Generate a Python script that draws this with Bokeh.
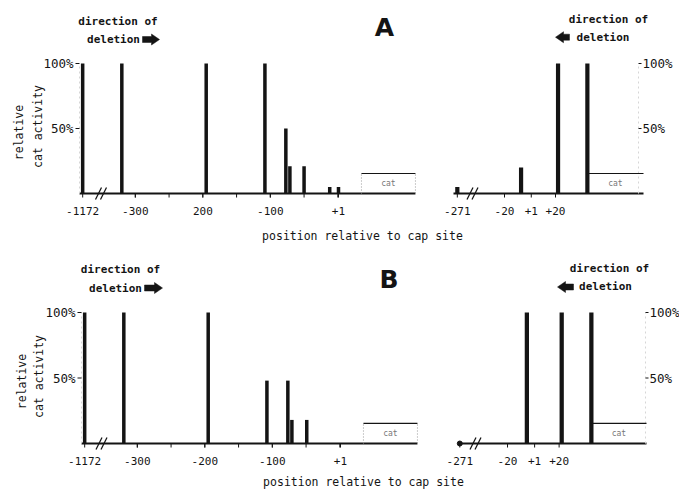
import numpy as np
from bokeh.plotting import figure
from bokeh.models import Range1d
from bokeh.core.properties import value
from bokeh.embed import file_html
from bokeh.resources import INLINE

# ---------------- data ----------------
A_left_pos = [-1172, -320, -195, -108, -77, -71, -50, -12, 1]
A_left_act = [100, 100, 100, 100, 50, 21, 21, 5, 5]
A_right_pos = [-271, -7, 22, 45]
A_right_act = [5, 20, 100, 100]

B_left_pos = [-1172, -320, -195, -108, -77, -71, -49]
B_left_act = [100, 100, 100, 48, 48, 18, 18]
B_right_pos = [-271, -5, 22, 45]
B_right_act = [0, 100, 100, 100]

left_ticks = [-1172, -300, -200, -100, 1]
A_left_tick_labels = ["-1172", "-300", "200", "-100", "+1"]
B_left_tick_labels = ["-1172", "-300", "-200", "-100", "+1"]
left_minor_ticks = [-300, -250, -200, -150, -100, -50, 0]
right_ticks = [-271, -20, 1, 20]
right_tick_labels = ["-271", "-20", "+1", "+20"]
y_ticks = [50, 100]
y_tick_labels = ["50%", "100%"]

cat_left_span = [35, 115]     # cat gene box, left panels (position)
cat_right_start = 45          # cat gene box starts at the last bar, right panels
cat_top = 15.4                # height of the cat box (% scale)

# ---------------- layout / style ----------------
FONT = "DejaVu Sans Mono"
INK = "#141414"
W, H = 679, 491
LEFT_SHIFT = 794    # axis break: -1172 drawn just right of the left axis
RIGHT_SHIFT = 214   # axis break: -271 drawn at the start of the right panel

ROWS = {
    "A": dict(base=193, ft=63, fl=79, ls=0.675, l0=-382.7,
              rpx=453, rs=1.275, r0=-60.0, rend=643,
              lax=79, rax=638, lbreak=100.5, rbreak=472.0, ticklab_y=210,
              dir_l=(117.5, 20.5), del_l=(113, 39), arr_l=(142, 159, 39),
              dir_r=(608, 19), del_r=(602.5, 36.7), arr_r=(569, 555, 36.7),
              letter=(384, 27), rel=(18.5, 132), catact=(37, 126), xlab=(362, 235)),
    "B": dict(base=443, ft=312, fl=81, ls=0.675, l0=-382.7,
              rpx=458, rs=1.29, r0=-58.0, rend=646,
              lax=81, rax=645, lbreak=101.0, rbreak=475.0, ticklab_y=460,
              dir_l=(120, 269), del_l=(115, 287.5), arr_l=(144, 162, 287.5),
              dir_r=(609, 268), del_r=(605, 286), arr_r=(573, 557, 286.5),
              letter=(388.5, 278.5), rel=(21.5, 381), catact=(38, 376), xlab=(363, 481)),
}


def ranges(c):
    ppy = (c["base"] - c["ft"]) / 100.0
    x0 = c["l0"] + (0 - c["fl"]) / c["ls"]
    x1 = c["l0"] + (W - c["fl"]) / c["ls"]
    y0 = (c["base"] - H) / ppy
    y1 = c["base"] / ppy
    return x0, x1, y0, y1


ax0, ax1, ay0, ay1 = ranges(ROWS["A"])
bx0, bx1, by0, by1 = ranges(ROWS["B"])

p = figure(width=W, height=H, x_range=Range1d(ax0, ax1), y_range=Range1d(ay0, ay1),
           output_backend="svg", toolbar_location=None, min_border=0,
           x_axis_location=None, y_axis_location=None)
p.extra_x_ranges = {"xB": Range1d(bx0, bx1)}
p.extra_y_ranges = {"yB": Range1d(by0, by1)}
p.grid.visible = False
p.outline_line_color = None
p.background_fill_color = "white"
p.border_fill_color = "white"


def draw_row(name, left_pos, left_act, right_pos, right_act, left_labels, kw):
    c = ROWS[name]
    fl, ls, l0, rs = c["fl"], c["ls"], c["l0"], c["rs"]
    ppy = (c["base"] - c["ft"]) / 100.0

    def PX(X):
        return l0 + (X - fl) / ls

    def PY(Y):
        return (c["base"] - Y) / ppy

    def lx(v):
        return v + LEFT_SHIFT if v < -400 else v

    r_origin = PX(c["rpx"])
    ratio = rs / ls

    def rx(v):
        d = v + RIGHT_SHIFT if v < -100 else v
        return r_origin + (d - c["r0"]) * ratio

    x_end_r = PX(c["rend"])

    def txt(xs, ys, texts, size="11px", align="center", angle=0.0, font=FONT,
            style="normal", color=INK):
        p.text(x=xs, y=ys, text=texts, text_font=value(font), text_font_size=value(size),
               text_font_style=style, text_color=color, text_align=align,
               text_baseline="middle", angle=angle, **kw)

    # ---- bars ----
    p.vbar(x=[lx(v) for v in left_pos], top=left_act, bottom=0, width=5.2,
           fill_color=INK, line_color=None, **kw)
    p.vbar(x=[rx(v) for v in right_pos], top=right_act, bottom=0, width=3.3 * ratio,
           fill_color=INK, line_color=None, **kw)
    zx = [rx(v) for v, a in zip(right_pos, right_act) if a == 0]
    if zx:
        p.scatter(x=zx, y=[0] * len(zx), size=5, fill_color=INK, line_color=INK, **kw)

    # ---- baselines (x axes) ----
    p.segment(x0=[l0, r_origin], y0=[0, 0], x1=[lx(cat_left_span[1]), x_end_r], y1=[0, 0],
              line_color=INK, line_width=2, **kw)
    txs = [lx(t) for t in left_ticks] + [lx(t) for t in left_minor_ticks] + [rx(t) for t in right_ticks]
    tl = 4.0 / ppy
    p.segment(x0=txs, y0=[0] * len(txs), x1=txs, y1=[-tl] * len(txs), line_color=INK,
              line_width=1, **kw)
    # tick labels
    ly = PY(c["ticklab_y"])
    txt([lx(t) for t in left_ticks] + [rx(t) for t in right_ticks],
        [ly] * (len(left_ticks) + len(right_ticks)),
        list(left_labels) + list(right_tick_labels), size="11px")

    # axis break marks
    for bx_px in (c["lbreak"], c["rbreak"]):
        for k in (-2.5, 2.5):
            p.segment(x0=[PX(bx_px + k - 3)], y0=[PY(c["base"] + 6)],
                      x1=[PX(bx_px + k + 3)], y1=[PY(c["base"] - 6)],
                      line_color=INK, line_width=1.2, **kw)

    # ---- y axes ----
    lax, rax = PX(c["lax"]), PX(c["rax"])
    p.segment(x0=[lax, rax], y0=[0, 0], x1=[lax, rax], y1=[100, 100],
              line_color="#d6d6d6", line_width=1, line_dash="2 3", **kw)
    n = len(y_ticks)
    p.segment(x0=[PX(c["lax"] - 4)] * n, y0=y_ticks, x1=[lax] * n, y1=y_ticks,
              line_color=INK, line_width=1, **kw)
    p.segment(x0=[rax] * n, y0=y_ticks, x1=[PX(c["rax"] + 3)] * n, y1=y_ticks,
              line_color=INK, line_width=1, **kw)
    txt([PX(c["lax"] - 6)] * n, y_ticks, y_tick_labels, size="12.5px", align="right")
    txt([PX(c["rax"] + 4)] * n, y_ticks, y_tick_labels, size="12.5px", align="left")

    # ---- cat boxes ----
    cl0, cl1 = lx(cat_left_span[0]), lx(cat_left_span[1])
    cr0 = rx(cat_right_start)
    p.segment(x0=[cl0, cr0], y0=[cat_top, cat_top], x1=[cl1, x_end_r], y1=[cat_top, cat_top],
              line_color=INK, line_width=1.2, **kw)
    p.segment(x0=[cl0, cl1], y0=[0, 0], x1=[cl0, cl1], y1=[cat_top, cat_top],
              line_color="#9a9a9a", line_width=1, line_dash="1 2", **kw)
    txt([(cl0 + cl1) / 2, (cr0 + x_end_r) / 2], [cat_top / 2] * 2, ["cat", "cat"],
        size="8px", color="#777777")

    # ---- annotations ----
    for key, s in (("dir_l", "direction of"), ("del_l", "deletion"),
                   ("dir_r", "direction of"), ("del_r", "deletion")):
        X, Y = c[key]
        txt([PX(X)], [PY(Y)], [s], size="11px", style="bold")
    X, Y = c["letter"]
    txt([PX(X)], [PY(Y)], [name], size="25px", font="DejaVu Sans", style="bold")
    X, Y = c["rel"]
    txt([PX(X)], [PY(Y)], ["relative"], size="11.5px", angle=np.pi / 2)
    X, Y = c["catact"]
    txt([PX(X)], [PY(Y)], ["cat activity"], size="11.5px", angle=np.pi / 2)
    X, Y = c["xlab"]
    txt([PX(X)], [PY(Y)], ["position relative to cap site"], size="11.5px")

    # block arrows
    for key in ("arr_l", "arr_r"):
        tail, tip, Y = c[key]
        d = 1 if tip > tail else -1
        hl, hh, sh = 8, 5.5, 3.0
        pts = [(tail, Y - sh), (tip - d * hl, Y - sh), (tip - d * hl, Y - hh), (tip, Y),
               (tip - d * hl, Y + hh), (tip - d * hl, Y + sh), (tail, Y + sh)]
        p.patch(x=[PX(a) for a, b in pts], y=[PY(b) for a, b in pts],
                fill_color=INK, line_color=INK, line_width=0.5, **kw)


draw_row("A", A_left_pos, A_left_act, A_right_pos, A_right_act, A_left_tick_labels, {})
draw_row("B", B_left_pos, B_left_act, B_right_pos, B_right_act, B_left_tick_labels,
         {"x_range_name": "xB", "y_range_name": "yB"})

open("out.html", "w").write(file_html(p, INLINE))
